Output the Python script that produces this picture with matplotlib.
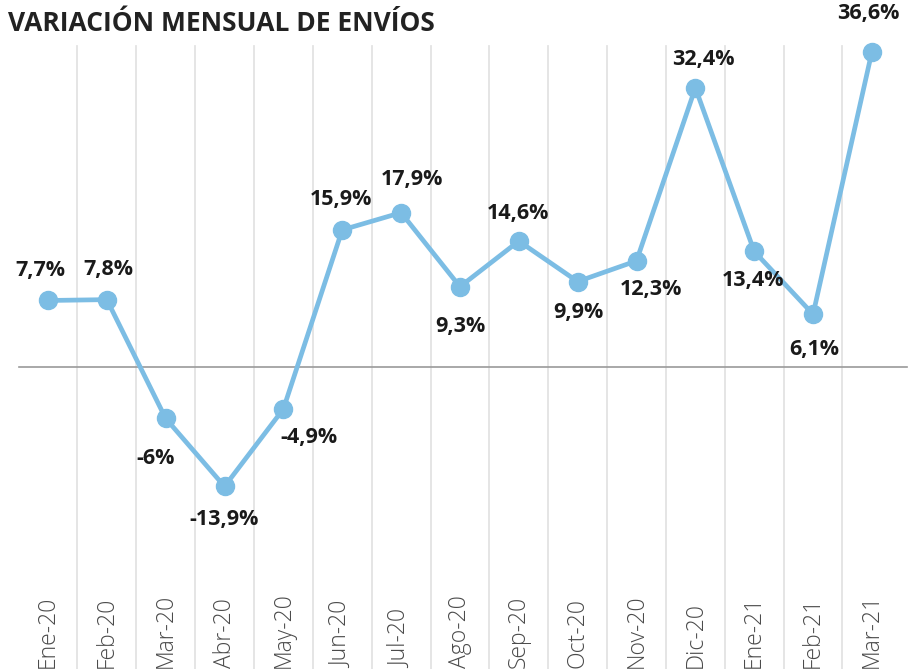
import matplotlib.pyplot as plt
import matplotlib.transforms as mtransforms

# Monthly change in shipments (%)
months = ["Ene-20", "Feb-20", "Mar-20", "Abr-20", "May-20", "Jun-20", "Jul-20",
          "Ago-20", "Sep-20", "Oct-20", "Nov-20", "Dic-20", "Ene-21", "Feb-21", "Mar-21"]
values = [7.7, 7.8, -6.0, -13.9, -4.9, 15.9, 17.9, 9.3, 14.6, 9.9, 12.3, 32.4, 13.4, 6.1, 36.6]
labels = ["7,7%", "7,8%", "-6%", "-13,9%", "-4,9%", "15,9%", "17,9%", "9,3%",
          "14,6%", "9,9%", "12,3%", "32,4%", "13,4%", "6,1%", "36,6%"]

# label offsets in pixels (dx, dy) relative to each point
offsets = [(-8, 30), (2, 30), (-10, -40), (0, -33), (26, -29), (-1, 30), (11, 33),
           (0, -40), (-1, 28), (1, -31), (14, -29), (8, 28), (-1, -29), (1, -35), (-4, 38)]

blue = "#7cbde4"
x = list(range(len(values)))

fig = plt.figure(figsize=(9.09, 6.69), dpi=100)
ax = fig.add_axes([0, 0, 1, 1])
ax.set_xlim(-0.815, 14.63)
ax.set_ylim(-35.1, 42.6)
ax.axis("off")

# vertical separators between months
top_grid = 37.2
for i in range(len(values) - 1):
    ax.plot([i + 0.5, i + 0.5], [-40, top_grid], color="#e3e3e3", lw=1.3, zorder=1)

# zero line
ax.plot([-0.5, 14.6], [0, 0], color="#9a9a9a", lw=1.2, zorder=2)

ax.plot(x, values, color=blue, lw=3.4, marker="o", markersize=13,
        markerfacecolor=blue, markeredgecolor=blue, zorder=3)

for xi, v, lab, (dx, dy) in zip(x, values, labels, offsets):
    ax.annotate(lab, (xi, v), xytext=(dx, dy), textcoords="offset pixels",
                ha="center", va="center", fontsize=15.5, fontweight="bold",
                family="Open Sans", color="#1a1a1a", zorder=4)

trans = mtransforms.blended_transform_factory(ax.transData, ax.transAxes)
for xi, m in zip(x, months):
    ax.text(xi, 0.002, m, transform=trans, rotation=90, ha="center", va="bottom",
            fontsize=16.5, family="Open Sans", fontweight="light", color="#4a4a4a")

fig.text(0.009, 0.985, "VARIACIÓN MENSUAL DE ENVÍOS", ha="left", va="top",
         fontsize=19, fontweight="bold", family="Open Sans", color="#222222")

fig.savefig("out.png", dpi=100, facecolor="white")
